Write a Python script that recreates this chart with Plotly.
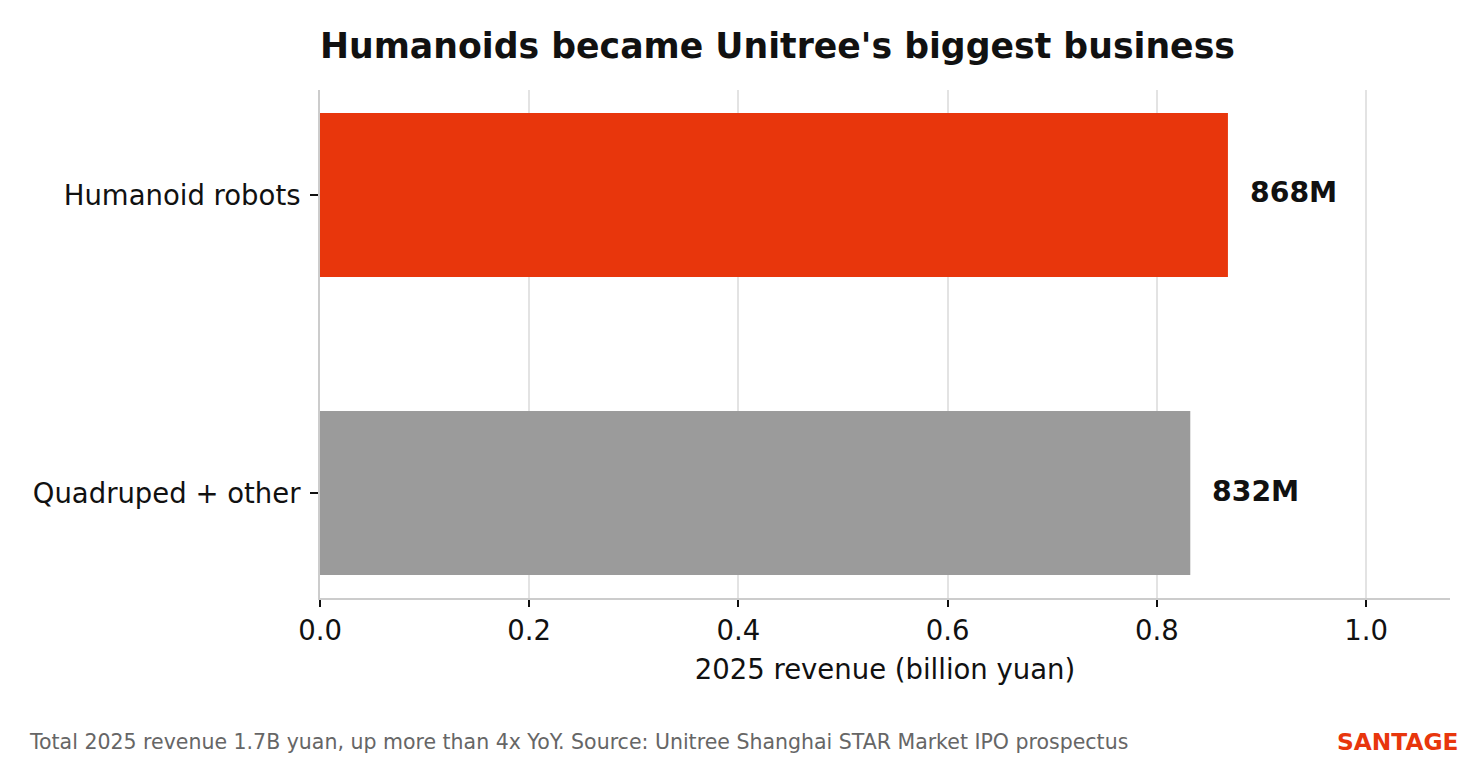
import plotly.graph_objects as go

# data
segments = ["Quadruped + other", "Humanoid robots"]
revenue_bn = [0.832, 0.868]
value_labels = ["832M", "868M"]
bar_colors = ["#9b9b9b", "#e8360c"]
x_ticks = [0.0, 0.2, 0.4, 0.6, 0.8, 1.0]

FONT = "DejaVu Sans"

# page has an 8px body margin, so the figure is a bit smaller than the window
W, H = 1472, 752
L, R, T, B = 312, 30, 82, 162
PW, PH = W - L - R, H - T - B


def px_x(x):
    return (x - L) / PW


def px_y(y):
    return (H - B - y) / PH


fig = go.Figure(
    go.Bar(
        y=segments,
        x=revenue_bn,
        orientation="h",
        marker=dict(color=bar_colors, line=dict(width=0)),
        width=0.55,
        hoverinfo="skip",
    )
)

# value labels to the right of each bar
for seg, val, lab in zip(segments, revenue_bn, value_labels):
    fig.add_annotation(
        x=val, y=seg, text=f"<b>{lab}</b>", showarrow=False,
        xanchor="left", xshift=20, yshift=2,
        font=dict(family=FONT, size=28.3, color="#111111"),
    )

fig.add_annotation(
    xref="paper", yref="paper", x=px_x(19), y=px_y(734), xanchor="left", yanchor="middle",
    text="Total 2025 revenue 1.7B yuan, up more than 4x YoY. Source: Unitree Shanghai STAR Market IPO prospectus",
    showarrow=False, font=dict(family=FONT, size=20.5, color="#666666"),
)
fig.add_annotation(
    xref="paper", yref="paper", x=px_x(1452), y=px_y(733), xanchor="right", yanchor="middle",
    text="<b>SANTAGE</b>", showarrow=False,
    font=dict(family=FONT, size=23.3, color="#e8360c"),
)

fig.update_layout(
    width=W, height=H,
    margin=dict(l=L, r=R, t=T, b=B),
    paper_bgcolor="white", plot_bgcolor="white",
    showlegend=False,
    title=dict(
        text="<b>Humanoids became Unitree's biggest business</b>",
        x=L / W, xanchor="left", y=1 - 38 / H, yanchor="middle",
        font=dict(family=FONT, size=34.7, color="#111111"),
    ),
    font=dict(family=FONT, size=27.5, color="#111111"),
    xaxis=dict(
        range=[0, 1.0803], tickvals=x_ticks, ticktext=[f"{t:.1f}" for t in x_ticks],
        showgrid=True, gridcolor="#e3e3e3", gridwidth=1.5,
        showline=True, linecolor="#cccccc", linewidth=2,
        ticks="outside", ticklen=7, tickwidth=2, tickcolor="#111111",
        zeroline=False,
        title=dict(text="2025 revenue (billion yuan)", standoff=15,
                   font=dict(family=FONT, size=27.5, color="#111111")),
        tickfont=dict(family=FONT, size=27.5, color="#111111"),
    ),
    yaxis=dict(
        range=[-0.352, 1.352],
        showgrid=False, zeroline=False,
        showline=True, linecolor="#cccccc", linewidth=2,
        ticks="outside", ticklen=8, tickwidth=2, tickcolor="#111111",
        ticklabelstandoff=4,
        tickfont=dict(family=FONT, size=27.5, color="#111111"),
    ),
)

fig.write_html("out.html")
